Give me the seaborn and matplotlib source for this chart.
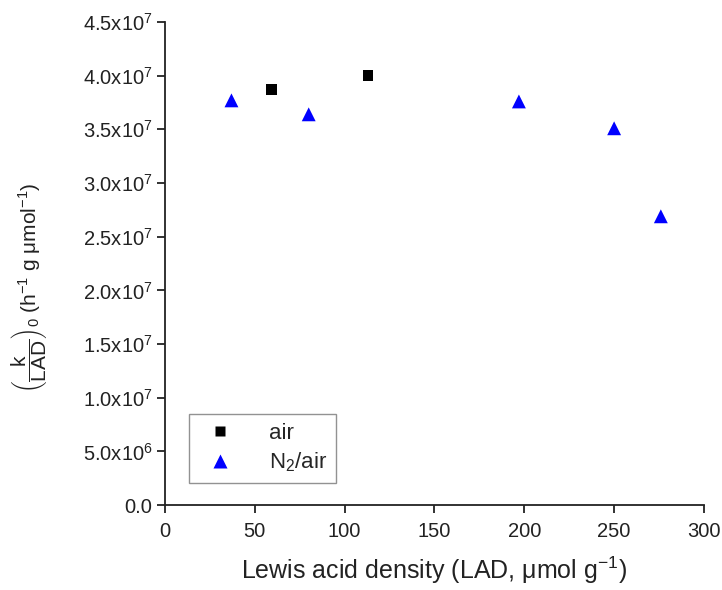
import pandas as pd
import seaborn as sns
import matplotlib.pyplot as plt
import numpy as np

# Data
air_lad = [59.5, 113]
air_rate = [3.87e7, 4.00e7]
n2_lad = [37, 80, 197, 250, 276]
n2_rate = [3.77e7, 3.64e7, 3.76e7, 3.51e7, 2.69e7]

df = pd.DataFrame({
    'lad': air_lad + n2_lad,
    'rate': air_rate + n2_rate,
    'atm': ['air'] * len(air_lad) + ['N$_2$/air'] * len(n2_lad),
})

sns.set_style('white')
plt.rcParams['font.family'] = ['Liberation Sans', 'DejaVu Sans']
plt.rcParams['mathtext.fontset'] = 'custom'
plt.rcParams['mathtext.rm'] = 'Liberation Sans'
plt.rcParams['mathtext.it'] = 'Liberation Sans'

dpi = 100
fig = plt.figure(figsize=(722 / dpi, 590 / dpi), dpi=dpi)
ax = fig.add_axes([0.2285, 0.144, 0.7465, 0.8187])

sns.scatterplot(data=df, x='lad', y='rate', hue='atm', style='atm', size='atm',
                palette={'air': 'black', 'N$_2$/air': 'blue'},
                markers={'air': 's', 'N$_2$/air': '^'},
                sizes={'air': 60, 'N$_2$/air': 100},
                edgecolor='none', ax=ax)

ax.set_xlim(0, 300)
ax.set_ylim(0, 4.5e7)
ax.set_xticks(np.arange(0, 301, 50))
yt = np.arange(0, 4.51e7, 0.5e7)
ax.set_yticks(yt)
ylabels = ['0.0'] + [f'{v / 1e7:.1f}x10$^{{7}}$' if v >= 1e7 else f'{v / 1e6:.1f}x10$^{{6}}$' for v in yt[1:]]
ax.set_yticklabels(ylabels)

for side in ['top', 'right']:
    ax.spines[side].set_visible(False)
for side in ['left', 'bottom']:
    ax.spines[side].set_color('#222222')
    ax.spines[side].set_linewidth(1.3)
ax.tick_params(axis='both', direction='out', length=6, width=1.3, color='#222222',
               labelsize=14.5, labelcolor='#222222', pad=3, bottom=True, left=True)
ax.tick_params(axis='x', pad=6)

ax.set_xlabel('Lewis acid density (LAD, μmol g$^{-1}$)', fontsize=18, color='#222222', labelpad=10)
ax.set_ylabel(r'$\left(\dfrac{\mathrm{k}}{\mathrm{LAD}}\right)_0$ (h$^{-1}$ g μmol$^{-1}$)',
              fontsize=15, color='#222222')
ax.yaxis.set_label_coords(-0.215, 0.45)

leg = ax.legend(loc='lower left', bbox_to_anchor=(0.045, 0.045), frameon=True,
                fancybox=False, edgecolor='#777777', fontsize=16, title=None,
                handletextpad=1.2, borderpad=0.4, labelspacing=0.3, borderaxespad=0)
leg.get_frame().set_linewidth(1.0)

fig.savefig('out.png', dpi=dpi)
